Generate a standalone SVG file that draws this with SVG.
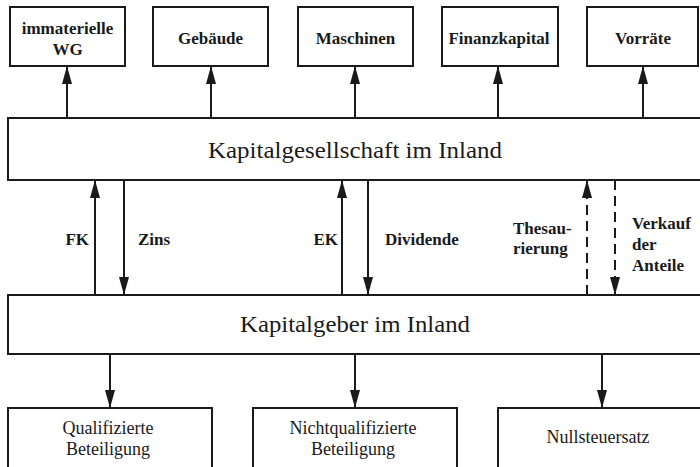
<svg xmlns="http://www.w3.org/2000/svg" width="700" height="467" viewBox="0 0 700 467">
<style>
.box{fill:#fff;stroke:#1a1a1a;stroke-width:2}
.ln{stroke:#1a1a1a;stroke-width:2;fill:none}
.dash{stroke-dasharray:10 6}
text{fill:#1a1a1a;font-family:Liberation Serif, DejaVu Serif, Times New Roman, serif}
.tb{font-size:17px;font-weight:bold;text-anchor:middle}
.big{font-size:24px;text-anchor:middle}
.bt{font-size:18px;text-anchor:middle}
.lb{font-size:17px;font-weight:bold}
</style>
<defs>
<marker id="ah" viewBox="0 0 18 10" refX="18" refY="5" markerWidth="18" markerHeight="10" markerUnits="userSpaceOnUse" orient="auto">
<path d="M0,0 L18,5 L0,10 z" fill="#1a1a1a"/>
</marker>
</defs>
<rect width="700" height="467" fill="#fff"/>
<g id="n-immaterielle">
<rect class="box" x="10" y="7" width="115" height="59"/>
<text class="tb" x="67.5" y="34">immaterielle</text>
<text class="tb" x="67.5" y="55">WG</text>
</g>
<g id="n-gebaeude">
<rect class="box" x="153" y="7" width="115" height="59"/>
<text class="tb" x="210.5" y="44">Gebäude</text>
</g>
<g id="n-maschinen">
<rect class="box" x="298" y="7" width="115" height="59"/>
<text class="tb" x="355.5" y="44">Maschinen</text>
</g>
<g id="n-finanzkapital">
<rect class="box" x="442" y="7" width="116" height="59"/>
<text class="tb" x="499" y="44">Finanzkapital</text>
</g>
<g id="n-vorraete">
<rect class="box" x="587" y="7" width="111" height="59"/>
<text class="tb" x="643" y="44">Vorräte</text>
</g>
<g id="n-kapitalgesellschaft">
<rect class="box" x="8" y="118" width="700" height="62"/>
<text class="big" x="355" y="158" textLength="294" lengthAdjust="spacingAndGlyphs">Kapitalgesellschaft im Inland</text>
</g>
<g id="n-kapitalgeber">
<rect class="box" x="8" y="295" width="700" height="59"/>
<text class="big" x="355" y="332" textLength="230" lengthAdjust="spacingAndGlyphs">Kapitalgeber im Inland</text>
</g>
<g id="n-qualifizierte">
<rect class="box" x="8" y="408" width="204" height="80"/>
<text class="bt" x="108" y="434">Qualifizierte</text>
<text class="bt" x="108" y="455">Beteiligung</text>
</g>
<g id="n-nichtqualifizierte">
<rect class="box" x="253" y="408" width="204" height="80"/>
<text class="bt" x="353" y="434">Nichtqualifizierte</text>
<text class="bt" x="353" y="455">Beteiligung</text>
</g>
<g id="n-nullsteuersatz">
<rect class="box" x="498" y="408" width="204" height="80"/>
<text class="bt" x="598" y="443">Nullsteuersatz</text>
</g>
<g id="connectors">
<line class="ln" x1="67" y1="118" x2="67" y2="66" marker-end="url(#ah)"/>
<line class="ln" x1="211" y1="118" x2="211" y2="66" marker-end="url(#ah)"/>
<line class="ln" x1="355" y1="118" x2="355" y2="66" marker-end="url(#ah)"/>
<line class="ln" x1="498" y1="118" x2="498" y2="66" marker-end="url(#ah)"/>
<line class="ln" x1="643" y1="118" x2="643" y2="66" marker-end="url(#ah)"/>
<line class="ln" x1="95" y1="295" x2="95" y2="180" marker-end="url(#ah)"/>
<line class="ln" x1="124" y1="180" x2="124" y2="295" marker-end="url(#ah)"/>
<line class="ln" x1="342" y1="295" x2="342" y2="180" marker-end="url(#ah)"/>
<line class="ln" x1="368" y1="180" x2="368" y2="295" marker-end="url(#ah)"/>
<line class="ln dash" x1="587" y1="295" x2="587" y2="180" marker-end="url(#ah)"/>
<line class="ln dash" x1="615" y1="180" x2="615" y2="295" marker-end="url(#ah)"/>
<line class="ln" x1="110" y1="354" x2="110" y2="408" marker-end="url(#ah)"/>
<line class="ln" x1="355" y1="354" x2="355" y2="408" marker-end="url(#ah)"/>
<line class="ln" x1="602" y1="354" x2="602" y2="408" marker-end="url(#ah)"/>
<text class="lb" x="89" y="245" text-anchor="end">FK</text>
<text class="lb" x="138" y="245">Zins</text>
<text class="lb" x="338" y="245" text-anchor="end">EK</text>
<text class="lb" x="385" y="245">Dividende</text>
<text class="lb" x="513" y="234">Thesau-</text>
<text class="lb" x="513" y="254">rierung</text>
<text class="lb" x="632" y="229">Verkauf</text>
<text class="lb" x="632" y="250">der</text>
<text class="lb" x="632" y="271">Anteile</text>
</g>
</svg>
